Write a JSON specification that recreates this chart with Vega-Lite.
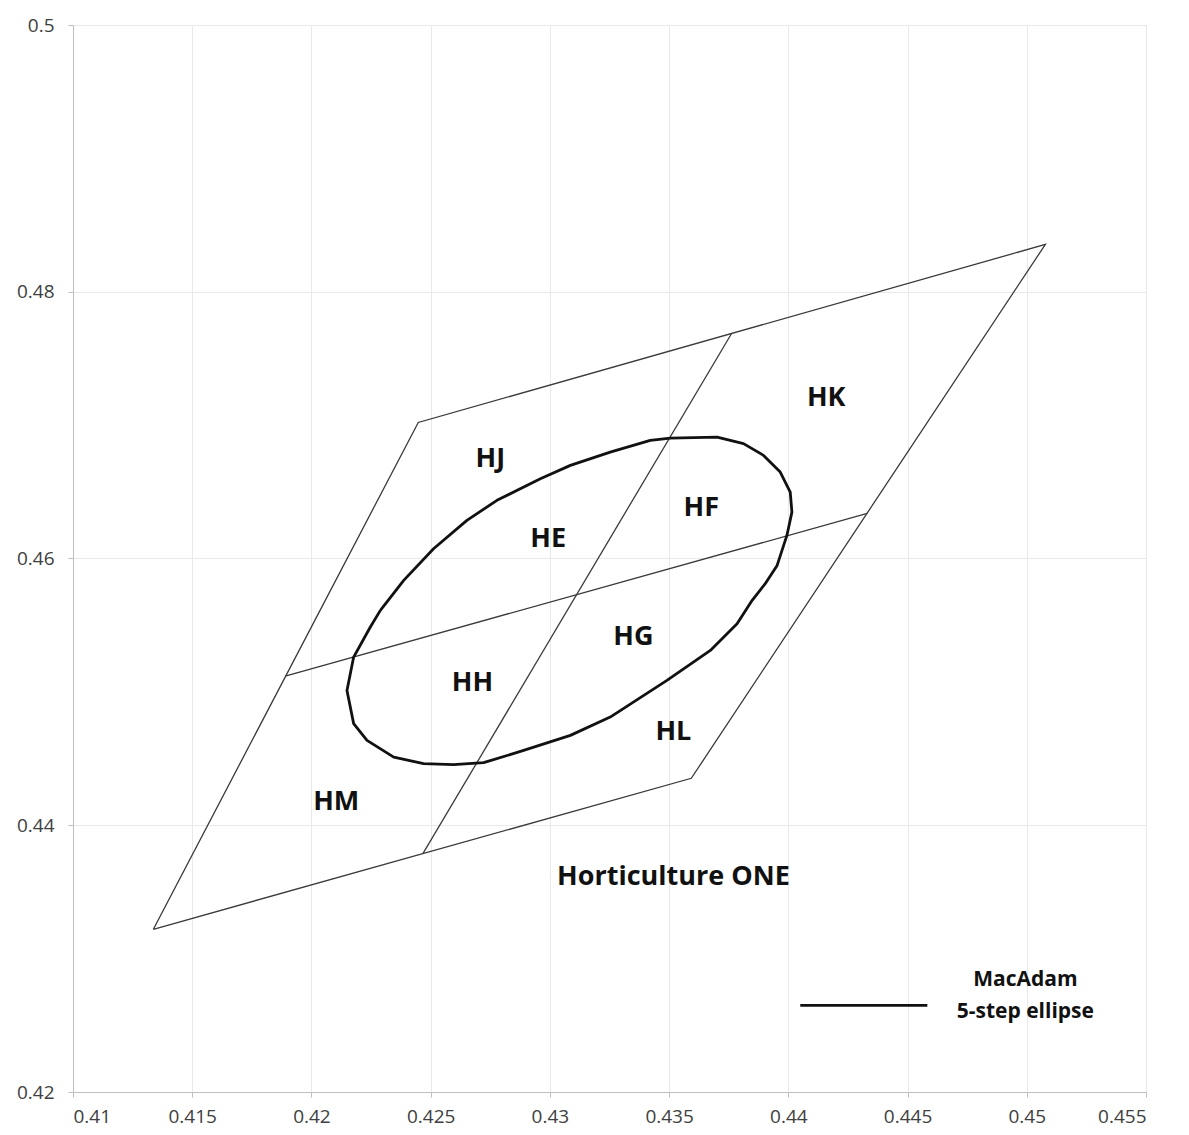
{
  "$schema": "https://vega.github.io/schema/vega-lite/v6.json",
  "width": 1073,
  "height": 1067,
  "autosize": {"type": "none"},
  "padding": {"left": 73, "top": 25, "right": 43, "bottom": 43},
  "background": "white",
  "config": {
    "view": {"stroke": "#bfbfbf", "strokeWidth": 1},
    "axis": {
      "domainColor": "#bfbfbf",
      "tickColor": "#bfbfbf",
      "tickSize": 5,
      "gridColor": "#e9e9e9",
      "labelColor": "#404040",
      "labelFont": "Open Sans",
      "labelFontSize": 19,
      "title": null
    }
  },
  "datasets": {
    "grid": [
      {"seg": "outer", "ord": 1, "x": 0.41337, "y": 0.4322},
      {"seg": "outer", "ord": 2, "x": 0.42448, "y": 0.4702},
      {"seg": "outer", "ord": 3, "x": 0.45078, "y": 0.48355},
      {"seg": "outer", "ord": 4, "x": 0.43593, "y": 0.44352},
      {"seg": "outer", "ord": 5, "x": 0.41337, "y": 0.4322},
      {"seg": "midV", "ord": 1, "x": 0.42468, "y": 0.43789},
      {"seg": "midV", "ord": 2, "x": 0.43762, "y": 0.47687},
      {"seg": "midH", "ord": 1, "x": 0.4189, "y": 0.45118},
      {"seg": "midH", "ord": 2, "x": 0.44331, "y": 0.46338}
    ],
    "ellipse": [
      {"ord": 1, "x": 0.42289, "y": 0.45611},
      {"ord": 2, "x": 0.42387, "y": 0.45836},
      {"ord": 3, "x": 0.42512, "y": 0.46073},
      {"ord": 4, "x": 0.42652, "y": 0.46286},
      {"ord": 5, "x": 0.42778, "y": 0.46436},
      {"ord": 6, "x": 0.4296, "y": 0.46598},
      {"ord": 7, "x": 0.43086, "y": 0.46698},
      {"ord": 8, "x": 0.43253, "y": 0.46798},
      {"ord": 9, "x": 0.43421, "y": 0.46885},
      {"ord": 10, "x": 0.43505, "y": 0.46903},
      {"ord": 11, "x": 0.43701, "y": 0.4691},
      {"ord": 12, "x": 0.43812, "y": 0.46861},
      {"ord": 13, "x": 0.43896, "y": 0.46773},
      {"ord": 14, "x": 0.43966, "y": 0.46648},
      {"ord": 15, "x": 0.44008, "y": 0.46498},
      {"ord": 16, "x": 0.44015, "y": 0.46348},
      {"ord": 17, "x": 0.43994, "y": 0.46173},
      {"ord": 18, "x": 0.43953, "y": 0.45948},
      {"ord": 19, "x": 0.43903, "y": 0.45811},
      {"ord": 20, "x": 0.43845, "y": 0.45678},
      {"ord": 21, "x": 0.43785, "y": 0.45511},
      {"ord": 22, "x": 0.43673, "y": 0.45311},
      {"ord": 23, "x": 0.43491, "y": 0.45086},
      {"ord": 24, "x": 0.43253, "y": 0.44811},
      {"ord": 25, "x": 0.43086, "y": 0.44674},
      {"ord": 26, "x": 0.4289, "y": 0.44561},
      {"ord": 27, "x": 0.42722, "y": 0.44469},
      {"ord": 28, "x": 0.42596, "y": 0.44454},
      {"ord": 29, "x": 0.4247, "y": 0.44462},
      {"ord": 30, "x": 0.42345, "y": 0.44511},
      {"ord": 31, "x": 0.42233, "y": 0.44636},
      {"ord": 32, "x": 0.42177, "y": 0.44762},
      {"ord": 33, "x": 0.42149, "y": 0.45011},
      {"ord": 34, "x": 0.42177, "y": 0.45261},
      {"ord": 35, "x": 0.42247, "y": 0.45486},
      {"ord": 36, "x": 0.42289, "y": 0.45611}
    ],
    "legendLine": [
      {"ord": 1, "x": 0.4405, "y": 0.4265},
      {"ord": 2, "x": 0.44583, "y": 0.4265}
    ],
    "labels": [
      {"label": "HJ", "x": 0.4275, "y": 0.46743},
      {"label": "HK", "x": 0.44159, "y": 0.472},
      {"label": "HF", "x": 0.43635, "y": 0.46376},
      {"label": "HE", "x": 0.42993, "y": 0.46143},
      {"label": "HG", "x": 0.4335, "y": 0.45409},
      {"label": "HH", "x": 0.42675, "y": 0.45064},
      {"label": "HL", "x": 0.43518, "y": 0.44696},
      {"label": "HM", "x": 0.42104, "y": 0.44172},
      {"label": "Horticulture ONE", "x": 0.43518, "y": 0.43609}
    ],
    "legendText": [
      {"label": "MacAdam", "x": 0.44994, "y": 0.42837},
      {"label": "5-step ellipse", "x": 0.44994, "y": 0.42597}
    ]
  },
  "encoding": {
    "x": {
      "field": "x", "type": "quantitative",
      "scale": {"domain": [0.41, 0.455], "zero": false, "nice": false},
      "axis": {"values": [0.41, 0.415, 0.42, 0.425, 0.43, 0.435, 0.44, 0.445, 0.45, 0.455], "format": "~g", "labelPadding": 10}
    },
    "y": {
      "field": "y", "type": "quantitative",
      "scale": {"domain": [0.42, 0.5], "zero": false, "nice": false},
      "axis": {"values": [0.42, 0.44, 0.46, 0.48, 0.5], "format": "~g", "labelPadding": 14}
    }
  },
  "layer": [
    {
      "data": {"name": "grid"},
      "mark": {"type": "line", "color": "#3a3a3a", "strokeWidth": 1.3},
      "encoding": {
        "detail": {"field": "seg", "type": "nominal"},
        "order": {"field": "ord", "type": "quantitative"}
      }
    },
    {
      "data": {"name": "ellipse"},
      "mark": {"type": "line", "color": "#111111", "strokeWidth": 2.8, "strokeJoin": "round"},
      "encoding": {
        "order": {"field": "ord", "type": "quantitative"}
      }
    },
    {
      "data": {"name": "legendLine"},
      "mark": {"type": "line", "color": "#111111", "strokeWidth": 2.8},
      "encoding": {
        "order": {"field": "ord", "type": "quantitative"}
      }
    },
    {
      "data": {"name": "labels"},
      "mark": {"type": "text", "font": "Open Sans", "fontWeight": "bold", "fontSize": 27, "color": "#111111", "align": "center", "baseline": "middle"},
      "encoding": {
        "text": {"field": "label", "type": "nominal"}
      }
    },
    {
      "data": {"name": "legendText"},
      "mark": {"type": "text", "font": "Open Sans", "fontWeight": "bold", "fontSize": 21, "color": "#111111", "align": "center", "baseline": "middle"},
      "encoding": {
        "text": {"field": "label", "type": "nominal"}
      }
    }
  ]
}
